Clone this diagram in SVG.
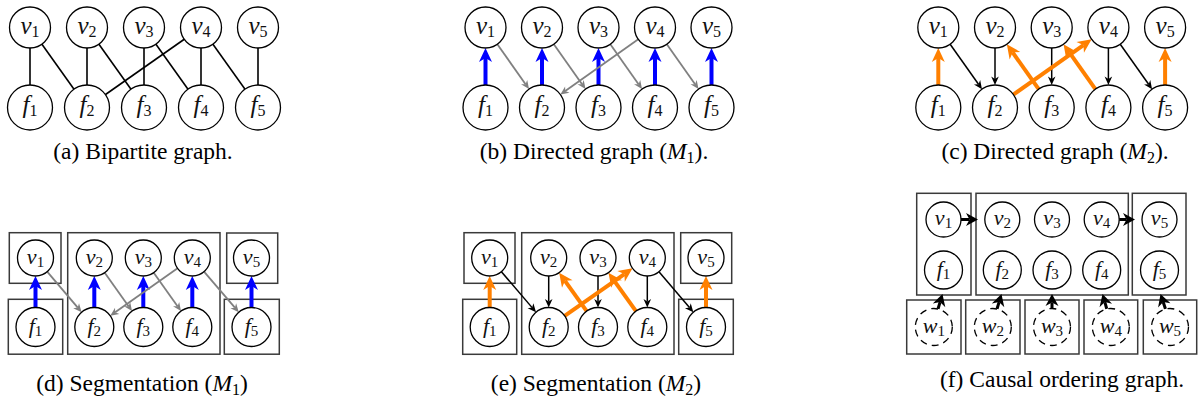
<svg xmlns="http://www.w3.org/2000/svg" width="1200" height="403" viewBox="0 0 1200 403">
  <style>
    .node { fill: #fff; stroke: #000; stroke-width: 1.3; }
    .wnode { fill: #fff; stroke: #000; stroke-width: 1.3; stroke-dasharray: 7 5; }
    .box { fill: none; stroke: #3a3a3a; stroke-width: 1.5; }
    .edge { stroke: #000; stroke-width: 1.6; fill: none; }
    .gray { stroke: #808080; stroke-width: 1.8; fill: none; marker-end: url(#hg); }
    .blk { stroke: #000; stroke-width: 1.5; fill: none; marker-end: url(#hk); }
    .blue { stroke: #0000ff; stroke-width: 4; fill: none; marker-end: url(#hb); }
    .orange { stroke: #ff8000; stroke-width: 4; fill: none; marker-end: url(#ho); }
    .bold { stroke: #000; stroke-width: 3; fill: none; marker-end: url(#hbk); }
    .lbl { font-family: "Liberation Serif", "Times New Roman", serif; font-size: 25px; text-anchor: middle; fill: #111; }
    .lbs { font-family: "Liberation Serif", "Times New Roman", serif; font-size: 22px; text-anchor: middle; fill: #111; }
    .it { font-style: italic; }
    .sub { font-size: 16px; }
    .subs { font-size: 15px; }
    .cap { font-family: "Liberation Serif", "Times New Roman", serif; font-size: 23.5px; text-anchor: middle; fill: #000; }
  </style>
  <defs>
    <marker id="hb" markerUnits="userSpaceOnUse" orient="auto" overflow="visible" markerWidth="20" markerHeight="20" refX="0" refY="0">
      <path d="M10,0 L-4,-6.5 L0,0 L-4,6.5 Z" fill="#0000ff"/>
    </marker>
    <marker id="ho" markerUnits="userSpaceOnUse" orient="auto" overflow="visible" markerWidth="20" markerHeight="20" refX="0" refY="0">
      <path d="M10,0 L-4,-6.5 L0,0 L-4,6.5 Z" fill="#ff8000"/>
    </marker>
    <marker id="hg" markerUnits="userSpaceOnUse" orient="auto" overflow="visible" markerWidth="12" markerHeight="12" refX="0" refY="0">
      <path d="M6,0 L-2.5,-3.8 L0,0 L-2.5,3.8 Z" fill="#808080"/>
    </marker>
    <marker id="hk" markerUnits="userSpaceOnUse" orient="auto" overflow="visible" markerWidth="12" markerHeight="12" refX="0" refY="0">
      <path d="M6,0 L-2.5,-3.8 L0,0 L-2.5,3.8 Z" fill="#000"/>
    </marker>
    <marker id="hbk" markerUnits="userSpaceOnUse" orient="auto" overflow="visible" markerWidth="16" markerHeight="16" refX="0" refY="0">
      <path d="M8.5,0 L-3.5,-6.5 L0,0 L-3.5,6.5 Z" fill="#000"/>
    </marker>
  </defs>
  <rect width="1200" height="403" fill="#fff"/>

  <!-- (a) bipartite graph -->
  <g id="panel-a">
    <g id="a-edges">
      <line class="edge" x1="30" y1="27.5" x2="30" y2="107.5"/>
      <line class="edge" x1="30" y1="27.5" x2="87" y2="107.5"/>
      <line class="edge" x1="87" y1="27.5" x2="87" y2="107.5"/>
      <line class="edge" x1="87" y1="27.5" x2="144" y2="107.5"/>
      <line class="edge" x1="144" y1="27.5" x2="144" y2="107.5"/>
      <line class="edge" x1="144" y1="27.5" x2="201" y2="107.5"/>
      <line class="edge" x1="201" y1="27.5" x2="87" y2="107.5"/>
      <line class="edge" x1="201" y1="27.5" x2="201" y2="107.5"/>
      <line class="edge" x1="201" y1="27.5" x2="258" y2="107.5"/>
      <line class="edge" x1="258" y1="27.5" x2="258" y2="107.5"/>
    </g>
    <g id="a-v1"><circle class="node" cx="30" cy="27.5" r="20.5"/><text class="lbl" x="30" y="33.5"><tspan class="it">v</tspan><tspan class="sub" dy="3">1</tspan></text></g>
    <g id="a-v2"><circle class="node" cx="87" cy="27.5" r="20.5"/><text class="lbl" x="87" y="33.5"><tspan class="it">v</tspan><tspan class="sub" dy="3">2</tspan></text></g>
    <g id="a-v3"><circle class="node" cx="144" cy="27.5" r="20.5"/><text class="lbl" x="144" y="33.5"><tspan class="it">v</tspan><tspan class="sub" dy="3">3</tspan></text></g>
    <g id="a-v4"><circle class="node" cx="201" cy="27.5" r="20.5"/><text class="lbl" x="201" y="33.5"><tspan class="it">v</tspan><tspan class="sub" dy="3">4</tspan></text></g>
    <g id="a-v5"><circle class="node" cx="258" cy="27.5" r="20.5"/><text class="lbl" x="258" y="33.5"><tspan class="it">v</tspan><tspan class="sub" dy="3">5</tspan></text></g>
    <g id="a-f1"><circle class="node" cx="30" cy="107.5" r="22.5"/><text class="lbl" x="30" y="113"><tspan class="it">f</tspan><tspan class="sub" dy="3">1</tspan></text></g>
    <g id="a-f2"><circle class="node" cx="87" cy="107.5" r="22.5"/><text class="lbl" x="87" y="113"><tspan class="it">f</tspan><tspan class="sub" dy="3">2</tspan></text></g>
    <g id="a-f3"><circle class="node" cx="144" cy="107.5" r="22.5"/><text class="lbl" x="144" y="113"><tspan class="it">f</tspan><tspan class="sub" dy="3">3</tspan></text></g>
    <g id="a-f4"><circle class="node" cx="201" cy="107.5" r="22.5"/><text class="lbl" x="201" y="113"><tspan class="it">f</tspan><tspan class="sub" dy="3">4</tspan></text></g>
    <g id="a-f5"><circle class="node" cx="258" cy="107.5" r="22.5"/><text class="lbl" x="258" y="113"><tspan class="it">f</tspan><tspan class="sub" dy="3">5</tspan></text></g>
    <text class="cap" x="143" y="159">(a) Bipartite graph.</text>
  </g>

  <!-- (b) directed graph M1 -->
  <g id="panel-b">
    <g id="b-edges">
      <line class="blue" x1="485.5" y1="85" x2="485.5" y2="58"/>
      <line class="blue" x1="542" y1="85" x2="542" y2="58"/>
      <line class="blue" x1="598.5" y1="85" x2="598.5" y2="58"/>
      <line class="blue" x1="655" y1="85" x2="655" y2="58"/>
      <line class="blue" x1="711.5" y1="85" x2="711.5" y2="58"/>
      <line class="gray" x1="497.33" y1="44.24" x2="525.56" y2="84.22"/>
      <line class="gray" x1="553.83" y1="44.24" x2="582.06" y2="84.22"/>
      <line class="gray" x1="610.33" y1="44.24" x2="638.56" y2="84.22"/>
      <line class="gray" x1="666.83" y1="44.24" x2="695.06" y2="84.22"/>
      <line class="gray" x1="638.27" y1="39.34" x2="565.26" y2="91.03"/>
    </g>
    <g id="b-v1"><circle class="node" cx="485.5" cy="27.5" r="20.5"/><text class="lbl" x="485.5" y="33.5"><tspan class="it">v</tspan><tspan class="sub" dy="3">1</tspan></text></g>
    <g id="b-v2"><circle class="node" cx="542" cy="27.5" r="20.5"/><text class="lbl" x="542" y="33.5"><tspan class="it">v</tspan><tspan class="sub" dy="3">2</tspan></text></g>
    <g id="b-v3"><circle class="node" cx="598.5" cy="27.5" r="20.5"/><text class="lbl" x="598.5" y="33.5"><tspan class="it">v</tspan><tspan class="sub" dy="3">3</tspan></text></g>
    <g id="b-v4"><circle class="node" cx="655" cy="27.5" r="20.5"/><text class="lbl" x="655" y="33.5"><tspan class="it">v</tspan><tspan class="sub" dy="3">4</tspan></text></g>
    <g id="b-v5"><circle class="node" cx="711.5" cy="27.5" r="20.5"/><text class="lbl" x="711.5" y="33.5"><tspan class="it">v</tspan><tspan class="sub" dy="3">5</tspan></text></g>
    <g id="b-f1"><circle class="node" cx="485.5" cy="107.5" r="22.5"/><text class="lbl" x="485.5" y="113"><tspan class="it">f</tspan><tspan class="sub" dy="3">1</tspan></text></g>
    <g id="b-f2"><circle class="node" cx="542" cy="107.5" r="22.5"/><text class="lbl" x="542" y="113"><tspan class="it">f</tspan><tspan class="sub" dy="3">2</tspan></text></g>
    <g id="b-f3"><circle class="node" cx="598.5" cy="107.5" r="22.5"/><text class="lbl" x="598.5" y="113"><tspan class="it">f</tspan><tspan class="sub" dy="3">3</tspan></text></g>
    <g id="b-f4"><circle class="node" cx="655" cy="107.5" r="22.5"/><text class="lbl" x="655" y="113"><tspan class="it">f</tspan><tspan class="sub" dy="3">4</tspan></text></g>
    <g id="b-f5"><circle class="node" cx="711.5" cy="107.5" r="22.5"/><text class="lbl" x="711.5" y="113"><tspan class="it">f</tspan><tspan class="sub" dy="3">5</tspan></text></g>
    <text class="cap" x="594" y="159">(b) Directed graph (<tspan class="it">M</tspan><tspan class="sub" dy="4">1</tspan><tspan dy="-4">).</tspan></text>
  </g>

  <!-- (c) directed graph M2 -->
  <g id="panel-c">
    <g id="c-edges">
      <line class="blk" x1="950.15" y1="44.23" x2="978.52" y2="84.24"/>
      <line class="blk" x1="995" y1="48" x2="995" y2="79"/>
      <line class="blk" x1="1051.7" y1="48" x2="1051.7" y2="79"/>
      <line class="blk" x1="1108.4" y1="48" x2="1108.4" y2="79"/>
      <line class="blk" x1="1120.25" y1="44.23" x2="1148.62" y2="84.24"/>
      <line class="orange" x1="938.3" y1="85" x2="938.3" y2="58"/>
      <line class="orange" x1="1165.1" y1="85" x2="1165.1" y2="58"/>
      <line class="orange" x1="1038.69" y1="89.14" x2="1012.63" y2="52.39"/>
      <line class="orange" x1="1095.39" y1="89.14" x2="1069.33" y2="52.39"/>
      <line class="orange" x1="1013.38" y1="94.53" x2="1083.48" y2="45.09"/>
    </g>
    <g id="c-v1"><circle class="node" cx="938.3" cy="27.5" r="20.5"/><text class="lbl" x="938.3" y="33.5"><tspan class="it">v</tspan><tspan class="sub" dy="3">1</tspan></text></g>
    <g id="c-v2"><circle class="node" cx="995" cy="27.5" r="20.5"/><text class="lbl" x="995" y="33.5"><tspan class="it">v</tspan><tspan class="sub" dy="3">2</tspan></text></g>
    <g id="c-v3"><circle class="node" cx="1051.7" cy="27.5" r="20.5"/><text class="lbl" x="1051.7" y="33.5"><tspan class="it">v</tspan><tspan class="sub" dy="3">3</tspan></text></g>
    <g id="c-v4"><circle class="node" cx="1108.4" cy="27.5" r="20.5"/><text class="lbl" x="1108.4" y="33.5"><tspan class="it">v</tspan><tspan class="sub" dy="3">4</tspan></text></g>
    <g id="c-v5"><circle class="node" cx="1165.1" cy="27.5" r="20.5"/><text class="lbl" x="1165.1" y="33.5"><tspan class="it">v</tspan><tspan class="sub" dy="3">5</tspan></text></g>
    <g id="c-f1"><circle class="node" cx="938.3" cy="107.5" r="22.5"/><text class="lbl" x="938.3" y="113"><tspan class="it">f</tspan><tspan class="sub" dy="3">1</tspan></text></g>
    <g id="c-f2"><circle class="node" cx="995" cy="107.5" r="22.5"/><text class="lbl" x="995" y="113"><tspan class="it">f</tspan><tspan class="sub" dy="3">2</tspan></text></g>
    <g id="c-f3"><circle class="node" cx="1051.7" cy="107.5" r="22.5"/><text class="lbl" x="1051.7" y="113"><tspan class="it">f</tspan><tspan class="sub" dy="3">3</tspan></text></g>
    <g id="c-f4"><circle class="node" cx="1108.4" cy="107.5" r="22.5"/><text class="lbl" x="1108.4" y="113"><tspan class="it">f</tspan><tspan class="sub" dy="3">4</tspan></text></g>
    <g id="c-f5"><circle class="node" cx="1165.1" cy="107.5" r="22.5"/><text class="lbl" x="1165.1" y="113"><tspan class="it">f</tspan><tspan class="sub" dy="3">5</tspan></text></g>
    <text class="cap" x="1055" y="159">(c) Directed graph (<tspan class="it">M</tspan><tspan class="sub" dy="4">2</tspan><tspan dy="-4">).</tspan></text>
  </g>

  <!-- (d) segmentation M1 -->
  <g id="panel-d">
    <g id="d-segments">
      <rect class="box" x="9.3" y="232.7" width="51.7" height="50.6"/>
      <rect class="box" x="8.3" y="299.3" width="54.4" height="54.9"/>
      <rect class="box" x="67.7" y="232.7" width="152.3" height="121.5"/>
      <rect class="box" x="226.7" y="233" width="51" height="50.3"/>
      <rect class="box" x="224.3" y="299.3" width="55" height="54.9"/>
    </g>
    <g id="d-edges">
      <line class="blue" x1="35.5" y1="307.5" x2="35.5" y2="286"/>
      <line class="blue" x1="94.3" y1="307.5" x2="94.3" y2="286"/>
      <line class="blue" x1="143.3" y1="307.5" x2="143.3" y2="286"/>
      <line class="blue" x1="192.3" y1="307.5" x2="192.3" y2="286"/>
      <line class="blue" x1="251.5" y1="307.5" x2="251.5" y2="286"/>
      <line class="gray" x1="47.17" y1="271.7" x2="77.76" y2="307.59"/>
      <line class="gray" x1="104.72" y1="272.68" x2="128.54" y2="306.21"/>
      <line class="gray" x1="153.72" y1="272.68" x2="177.54" y2="306.21"/>
      <line class="gray" x1="204.02" y1="271.66" x2="234.89" y2="307.65"/>
      <line class="gray" x1="177.58" y1="268.36" x2="115.16" y2="312.32"/>
    </g>
    <g id="d-v1"><circle class="node" cx="35.5" cy="258" r="18"/><text class="lbs" x="35.5" y="263.5"><tspan class="it">v</tspan><tspan class="subs" dy="3">1</tspan></text></g>
    <g id="d-v2"><circle class="node" cx="94.3" cy="258" r="18"/><text class="lbs" x="94.3" y="263.5"><tspan class="it">v</tspan><tspan class="subs" dy="3">2</tspan></text></g>
    <g id="d-v3"><circle class="node" cx="143.3" cy="258" r="18"/><text class="lbs" x="143.3" y="263.5"><tspan class="it">v</tspan><tspan class="subs" dy="3">3</tspan></text></g>
    <g id="d-v4"><circle class="node" cx="192.3" cy="258" r="18"/><text class="lbs" x="192.3" y="263.5"><tspan class="it">v</tspan><tspan class="subs" dy="3">4</tspan></text></g>
    <g id="d-v5"><circle class="node" cx="251.5" cy="258" r="18"/><text class="lbs" x="251.5" y="263.5"><tspan class="it">v</tspan><tspan class="subs" dy="3">5</tspan></text></g>
    <g id="d-f1"><circle class="node" cx="35.5" cy="327" r="19.5"/><text class="lbs" x="35.5" y="332.5"><tspan class="it">f</tspan><tspan class="subs" dy="3">1</tspan></text></g>
    <g id="d-f2"><circle class="node" cx="94.3" cy="327" r="19.5"/><text class="lbs" x="94.3" y="332.5"><tspan class="it">f</tspan><tspan class="subs" dy="3">2</tspan></text></g>
    <g id="d-f3"><circle class="node" cx="143.3" cy="327" r="19.5"/><text class="lbs" x="143.3" y="332.5"><tspan class="it">f</tspan><tspan class="subs" dy="3">3</tspan></text></g>
    <g id="d-f4"><circle class="node" cx="192.3" cy="327" r="19.5"/><text class="lbs" x="192.3" y="332.5"><tspan class="it">f</tspan><tspan class="subs" dy="3">4</tspan></text></g>
    <g id="d-f5"><circle class="node" cx="251.5" cy="327" r="19.5"/><text class="lbs" x="251.5" y="332.5"><tspan class="it">f</tspan><tspan class="subs" dy="3">5</tspan></text></g>
    <text class="cap" x="142" y="391">(d) Segmentation (<tspan class="it">M</tspan><tspan class="sub" dy="4">1</tspan><tspan dy="-4">)</tspan></text>
  </g>

  <!-- (e) segmentation M2 -->
  <g id="panel-e">
    <g id="e-segments">
      <rect class="box" x="464" y="232.7" width="51" height="50.6"/>
      <rect class="box" x="462.7" y="299.3" width="54" height="55"/>
      <rect class="box" x="521.7" y="232.7" width="152.3" height="121.6"/>
      <rect class="box" x="680.7" y="232.7" width="51" height="50.6"/>
      <rect class="box" x="678.7" y="299.3" width="54.6" height="55"/>
    </g>
    <g id="e-edges">
      <line class="blk" x1="501.4" y1="271.68" x2="532.13" y2="307.62"/>
      <line class="blk" x1="548.7" y1="276" x2="548.7" y2="301.5"/>
      <line class="blk" x1="598" y1="276" x2="598" y2="301.5"/>
      <line class="blk" x1="647.3" y1="276" x2="647.3" y2="301.5"/>
      <line class="blk" x1="658.96" y1="271.71" x2="689.47" y2="307.58"/>
      <line class="orange" x1="489.7" y1="307.5" x2="489.7" y2="286"/>
      <line class="orange" x1="706" y1="307.5" x2="706" y2="286"/>
      <line class="orange" x1="586.66" y1="311.13" x2="564.98" y2="280.79"/>
      <line class="orange" x1="635.96" y1="311.13" x2="614.28" y2="280.79"/>
      <line class="orange" x1="564.68" y1="315.82" x2="624.36" y2="274.05"/>
    </g>
    <g id="e-v1"><circle class="node" cx="489.7" cy="258" r="18"/><text class="lbs" x="489.7" y="263.5"><tspan class="it">v</tspan><tspan class="subs" dy="3">1</tspan></text></g>
    <g id="e-v2"><circle class="node" cx="548.7" cy="258" r="18"/><text class="lbs" x="548.7" y="263.5"><tspan class="it">v</tspan><tspan class="subs" dy="3">2</tspan></text></g>
    <g id="e-v3"><circle class="node" cx="598" cy="258" r="18"/><text class="lbs" x="598" y="263.5"><tspan class="it">v</tspan><tspan class="subs" dy="3">3</tspan></text></g>
    <g id="e-v4"><circle class="node" cx="647.3" cy="258" r="18"/><text class="lbs" x="647.3" y="263.5"><tspan class="it">v</tspan><tspan class="subs" dy="3">4</tspan></text></g>
    <g id="e-v5"><circle class="node" cx="706" cy="258" r="18"/><text class="lbs" x="706" y="263.5"><tspan class="it">v</tspan><tspan class="subs" dy="3">5</tspan></text></g>
    <g id="e-f1"><circle class="node" cx="489.7" cy="327" r="19.5"/><text class="lbs" x="489.7" y="332.5"><tspan class="it">f</tspan><tspan class="subs" dy="3">1</tspan></text></g>
    <g id="e-f2"><circle class="node" cx="548.7" cy="327" r="19.5"/><text class="lbs" x="548.7" y="332.5"><tspan class="it">f</tspan><tspan class="subs" dy="3">2</tspan></text></g>
    <g id="e-f3"><circle class="node" cx="598" cy="327" r="19.5"/><text class="lbs" x="598" y="332.5"><tspan class="it">f</tspan><tspan class="subs" dy="3">3</tspan></text></g>
    <g id="e-f4"><circle class="node" cx="647.3" cy="327" r="19.5"/><text class="lbs" x="647.3" y="332.5"><tspan class="it">f</tspan><tspan class="subs" dy="3">4</tspan></text></g>
    <g id="e-f5"><circle class="node" cx="706" cy="327" r="19.5"/><text class="lbs" x="706" y="332.5"><tspan class="it">f</tspan><tspan class="subs" dy="3">5</tspan></text></g>
    <text class="cap" x="596" y="391">(e) Segmentation (<tspan class="it">M</tspan><tspan class="sub" dy="4">2</tspan><tspan dy="-4">)</tspan></text>
  </g>

  <!-- (f) causal ordering graph -->
  <g id="panel-f">
    <g id="f-segments">
      <rect class="box" x="916.7" y="193.3" width="54.3" height="101.7"/>
      <rect class="box" x="976" y="193.3" width="152.3" height="101.7"/>
      <rect class="box" x="1132.3" y="193.3" width="53.7" height="101.7"/>
      <rect class="box" x="906.7" y="300" width="54.3" height="54"/>
      <rect class="box" x="965.7" y="300" width="54.3" height="54"/>
      <rect class="box" x="1025" y="300" width="54" height="54"/>
      <rect class="box" x="1084" y="300" width="53.7" height="54"/>
      <rect class="box" x="1143.3" y="300" width="53.4" height="54"/>
    </g>
    <g id="f-edges">
      <line class="bold" x1="961" y1="219.5" x2="969.5" y2="219.5"/>
      <line class="bold" x1="1119.2" y1="219.5" x2="1126.5" y2="219.5"/>
      <line class="bold" x1="938" y1="309" x2="940.05" y2="302.1"/>
      <line class="bold" x1="997" y1="309" x2="999.05" y2="302.1"/>
      <line class="bold" x1="1052" y1="309" x2="1052" y2="302.5"/>
      <line class="bold" x1="1106.8" y1="309" x2="1104.85" y2="302.1"/>
      <line class="bold" x1="1165.5" y1="309" x2="1163.19" y2="302.03"/>
    </g>
    <g id="f-v1"><circle class="node" cx="943.5" cy="219.5" r="17.5"/><text class="lbs" x="943.5" y="225"><tspan class="it">v</tspan><tspan class="subs" dy="3">1</tspan></text></g>
    <g id="f-v2"><circle class="node" cx="1002.3" cy="219.5" r="17.5"/><text class="lbs" x="1002.3" y="225"><tspan class="it">v</tspan><tspan class="subs" dy="3">2</tspan></text></g>
    <g id="f-v3"><circle class="node" cx="1052" cy="219.5" r="17.5"/><text class="lbs" x="1052" y="225"><tspan class="it">v</tspan><tspan class="subs" dy="3">3</tspan></text></g>
    <g id="f-v4"><circle class="node" cx="1101.7" cy="219.5" r="17.5"/><text class="lbs" x="1101.7" y="225"><tspan class="it">v</tspan><tspan class="subs" dy="3">4</tspan></text></g>
    <g id="f-v5"><circle class="node" cx="1159.5" cy="219.5" r="17.5"/><text class="lbs" x="1159.5" y="225"><tspan class="it">v</tspan><tspan class="subs" dy="3">5</tspan></text></g>
    <g id="f-f1"><circle class="node" cx="943.5" cy="270" r="19"/><text class="lbs" x="943.5" y="275.5"><tspan class="it">f</tspan><tspan class="subs" dy="3">1</tspan></text></g>
    <g id="f-f2"><circle class="node" cx="1002.3" cy="270" r="19"/><text class="lbs" x="1002.3" y="275.5"><tspan class="it">f</tspan><tspan class="subs" dy="3">2</tspan></text></g>
    <g id="f-f3"><circle class="node" cx="1052" cy="270" r="19"/><text class="lbs" x="1052" y="275.5"><tspan class="it">f</tspan><tspan class="subs" dy="3">3</tspan></text></g>
    <g id="f-f4"><circle class="node" cx="1101.7" cy="270" r="19"/><text class="lbs" x="1101.7" y="275.5"><tspan class="it">f</tspan><tspan class="subs" dy="3">4</tspan></text></g>
    <g id="f-f5"><circle class="node" cx="1159.5" cy="270" r="19"/><text class="lbs" x="1159.5" y="275.5"><tspan class="it">f</tspan><tspan class="subs" dy="3">5</tspan></text></g>
    <g id="f-w1"><circle class="wnode" cx="933.8" cy="327" r="18.5"/><text class="lbs" x="933.8" y="332.5"><tspan class="it">w</tspan><tspan class="subs" dy="3">1</tspan></text></g>
    <g id="f-w2"><circle class="wnode" cx="992.8" cy="327" r="18.5"/><text class="lbs" x="992.8" y="332.5"><tspan class="it">w</tspan><tspan class="subs" dy="3">2</tspan></text></g>
    <g id="f-w3"><circle class="wnode" cx="1052" cy="327" r="18.5"/><text class="lbs" x="1052" y="332.5"><tspan class="it">w</tspan><tspan class="subs" dy="3">3</tspan></text></g>
    <g id="f-w4"><circle class="wnode" cx="1110.8" cy="327" r="18.5"/><text class="lbs" x="1110.8" y="332.5"><tspan class="it">w</tspan><tspan class="subs" dy="3">4</tspan></text></g>
    <g id="f-w5"><circle class="wnode" cx="1170" cy="327" r="18.5"/><text class="lbs" x="1170" y="332.5"><tspan class="it">w</tspan><tspan class="subs" dy="3">5</tspan></text></g>
    <text class="cap" x="1062" y="387">(f) Causal ordering graph.</text>
  </g>
</svg>
